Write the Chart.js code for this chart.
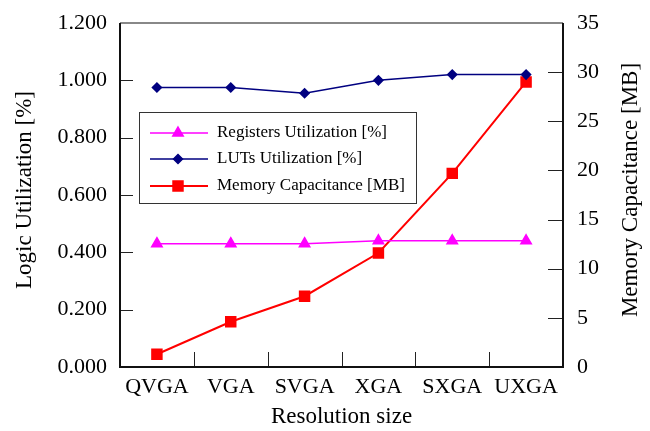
<!DOCTYPE html>
<html>
<head>
<meta charset="utf-8">
<script src="https://cdn.jsdelivr.net/npm/chart.js"></script>
<style>
body { margin: 0; background: #fff; }
#wrap { width: 650px; height: 431px; }
</style>
</head>
<body>
<div id="wrap"><canvas id="chart" width="650" height="431"></canvas></div>
<script>
const resolutions = ['QVGA', 'VGA', 'SVGA', 'XGA', 'SXGA', 'UXGA'];
const registersUtil = [0.43, 0.43, 0.43, 0.44, 0.44, 0.44];
const lutsUtil = [0.975, 0.975, 0.955, 1.0, 1.02, 1.02];
const memoryMB = [1.3, 4.6, 7.2, 11.6, 19.7, 29.0];
const leftTicks = [0, 0.2, 0.4, 0.6, 0.8, 1.0, 1.2];
const rightTicks = [0, 5, 10, 15, 20, 25, 30, 35];

const serif = "'Liberation Serif', 'Times New Roman', serif";

// box round the plot with inward tick marks, plus both y titles
const framePlugin = {
	id: 'frame',
	beforeDatasetsDraw(chart) {
		const ctx = chart.ctx, a = chart.chartArea;
		const x = chart.scales.x, yl = chart.scales.y, yr = chart.scales.y2;
		ctx.save();
		ctx.lineWidth = 1;
		ctx.strokeStyle = '#222';
		leftTicks.forEach(v => {
			const py = Math.round(yl.getPixelForValue(v)) + 0.5;
			ctx.beginPath(); ctx.moveTo(a.left, py); ctx.lineTo(a.left + 13, py); ctx.stroke();
		});
		rightTicks.forEach(v => {
			const py = Math.round(yr.getPixelForValue(v)) + 0.5;
			ctx.beginPath(); ctx.moveTo(a.right - 15, py); ctx.lineTo(a.right, py); ctx.stroke();
		});
		for (let i = 0; i < resolutions.length - 1; i++) {
			const px = Math.round((x.getPixelForValue(i) + x.getPixelForValue(i + 1)) / 2) + 0.5;
			ctx.beginPath(); ctx.moveTo(px, a.bottom); ctx.lineTo(px, a.bottom - 15); ctx.stroke();
		}
		ctx.lineWidth = 2;
		ctx.strokeStyle = '#888';
		ctx.beginPath(); ctx.moveTo(a.left, a.top); ctx.lineTo(a.right, a.top); ctx.stroke();
		ctx.strokeStyle = '#111';
		ctx.beginPath();
		ctx.moveTo(a.left, a.top); ctx.lineTo(a.left, a.bottom); ctx.lineTo(a.right, a.bottom); ctx.lineTo(a.right, a.top);
		ctx.stroke();

		// axis titles, both read bottom to top
		ctx.fillStyle = '#000';
		ctx.font = '23px ' + serif;
		ctx.textAlign = 'center';
		ctx.textBaseline = 'middle';
		[[25, 'Logic Utilization [%]'], [631, 'Memory Capacitance [MB]']].forEach(([tx, text]) => {
			ctx.save();
			ctx.translate(tx, 190);
			ctx.rotate(-Math.PI / 2);
			ctx.fillText(text, 0, 0);
			ctx.restore();
		});
		ctx.restore();
	}
};

// legend box inside the plot
const boxLegend = {
	id: 'boxLegend',
	afterDraw(chart) {
		const ctx = chart.ctx;
		const bx = 139, by = 112, bw = 277, bh = 91;
		ctx.save();
		ctx.fillStyle = '#fff';
		ctx.fillRect(bx, by, bw, bh);
		ctx.lineWidth = 1;
		ctx.strokeStyle = '#333';
		ctx.strokeRect(bx + 0.5, by + 0.5, bw, bh);
		const rows = [133, 159, 186];
		chart.data.datasets.forEach((ds, i) => {
			const y = rows[i];
			ctx.strokeStyle = ds.borderColor;
			ctx.lineWidth = ds.borderWidth;
			ctx.beginPath(); ctx.moveTo(150, y); ctx.lineTo(208, y); ctx.stroke();
			ctx.fillStyle = ds.pointBackgroundColor;
			ctx.strokeStyle = ds.pointBorderColor;
			Chart.helpers.drawPoint(ctx, {
				pointStyle: ds.pointStyle, radius: ds.pointRadius, borderWidth: 1
			}, 178, y);
			ctx.fillStyle = '#000';
			ctx.font = '17px ' + serif;
			ctx.textAlign = 'left';
			ctx.textBaseline = 'middle';
			ctx.fillText(ds.label, 217, y);
		});
		ctx.restore();
	}
};

function noOverflow(s) {
	s.paddingTop = 0;
	s.paddingBottom = 0;
	s.paddingLeft = 0;
	s.paddingRight = 0;
}

new Chart(document.getElementById('chart'), {
	type: 'line',
	data: {
		labels: resolutions,
		datasets: [{
			label: 'Registers Utilization [%]',
			data: registersUtil,
			yAxisID: 'y',
			borderColor: '#ff00ff',
			backgroundColor: '#ff00ff',
			pointBackgroundColor: '#ff00ff',
			pointBorderColor: '#ff00ff',
			borderWidth: 1.5,
			pointStyle: 'triangle',
			pointRadius: 6,
			tension: 0
		}, {
			label: 'LUTs Utilization [%]',
			data: lutsUtil,
			yAxisID: 'y',
			borderColor: '#000080',
			backgroundColor: '#000080',
			pointBackgroundColor: '#000080',
			pointBorderColor: '#000080',
			borderWidth: 1.5,
			pointStyle: 'rectRot',
			pointRadius: 4.5,
			tension: 0
		}, {
			label: 'Memory Capacitance [MB]',
			data: memoryMB,
			yAxisID: 'y2',
			borderColor: '#ff0000',
			backgroundColor: '#ff0000',
			pointBackgroundColor: '#ff0000',
			pointBorderColor: '#ff0000',
			borderWidth: 2,
			pointStyle: 'rect',
			pointRadius: 6.7,
			tension: 0
		}]
	},
	options: {
		responsive: false,
		animation: false,
		layout: { padding: { top: 23, left: 0, right: 0, bottom: 0 } },
		plugins: { legend: { display: false }, tooltip: { enabled: false } },
		scales: {
			x: {
				offset: true,
				grid: { display: false, drawTicks: false },
				border: { display: false },
				ticks: { color: '#000', font: { family: serif, size: 22 }, padding: 7, maxRotation: 0 },
				title: { display: true, text: 'Resolution size', color: '#000', font: { family: serif, size: 23 }, padding: { top: 0, bottom: 0 } },
				afterFit(s) { s.height = 64; noOverflow(s); }
			},
			y: {
				position: 'left',
				min: 0, max: 1.2,
				grid: { display: false, drawTicks: false },
				border: { display: false },
				afterBuildTicks(s) { s.ticks = leftTicks.map(v => ({ value: v })); },
				ticks: { color: '#000', font: { family: serif, size: 22 }, padding: 13, callback: v => v.toFixed(3) },
				afterFit(s) { s.width = 120; noOverflow(s); }
			},
			y2: {
				position: 'right',
				min: 0, max: 35,
				grid: { display: false, drawTicks: false },
				border: { display: false },
				afterBuildTicks(s) { s.ticks = rightTicks.map(v => ({ value: v })); },
				ticks: { color: '#000', font: { family: serif, size: 22 }, padding: 14 },
				afterFit(s) { s.width = 87; noOverflow(s); }
			}
		}
	},
	plugins: [framePlugin, boxLegend]
});
</script>
</body>
</html>
